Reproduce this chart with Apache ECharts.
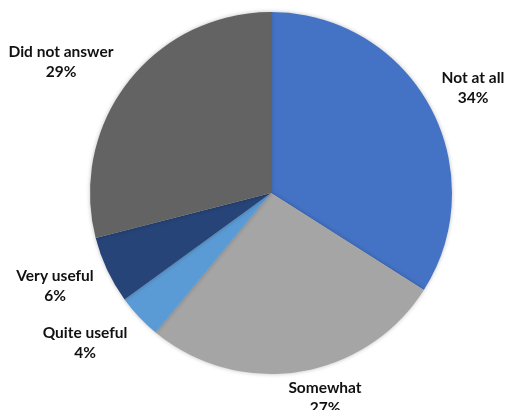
<!DOCTYPE html>
<html>
<head>
<meta charset="utf-8">
<script src="https://cdn.jsdelivr.net/npm/echarts@6/dist/echarts.min.js"></script>
<style>
  html, body { margin: 0; padding: 0; background: #fff; }
  #chart { width: 508px; height: 410px; }
</style>
</head>
<body>
<div id="chart"></div>
<script>
// Survey answers, clockwise from 12 o'clock
const categories = ['Not at all', 'Somewhat', 'Quite useful', 'Very useful', 'Did not answer'];
const shares = [34, 27, 4, 6, 29];
const colors = ['#4472C4', '#A5A5A5', '#5B9BD5', '#264478', '#636363'];

// Centre points of each two-line data label
const labelAnchors = [[473, 88], [325, 398], [85, 343], [55, 286], [61, 62]];

const chart = echarts.init(document.getElementById('chart'), null, { renderer: 'canvas' });

chart.setOption({
  animation: false,
  backgroundColor: '#ffffff',
  series: [{
    type: 'pie',
    center: [271, 193],
    radius: 181,
    startAngle: 90,
    clockwise: true,
    avoidLabelOverlap: false,
    data: categories.map((name, i) => ({
      name: name,
      value: shares[i],
      itemStyle: { color: colors[i] }
    })),
    itemStyle: {
      borderWidth: 0,
      shadowBlur: 4,
      shadowColor: 'rgba(0,0,0,0.25)'
    },
    label: {
      show: true,
      position: 'outside',
      formatter: p => p.name + '\n' + p.value + '%',
      fontFamily: 'Lato',
      fontWeight: 'bold',
      fontSize: 15.5,
      lineHeight: 20,
      color: '#111111'
    },
    labelLine: { show: false },
    labelLayout: params => {
      const a = labelAnchors[params.dataIndex];
      return { x: a[0], y: a[1], align: 'center', verticalAlign: 'middle' };
    },
    emphasis: { disabled: true }
  }]
});
</script>
</body>
</html>
